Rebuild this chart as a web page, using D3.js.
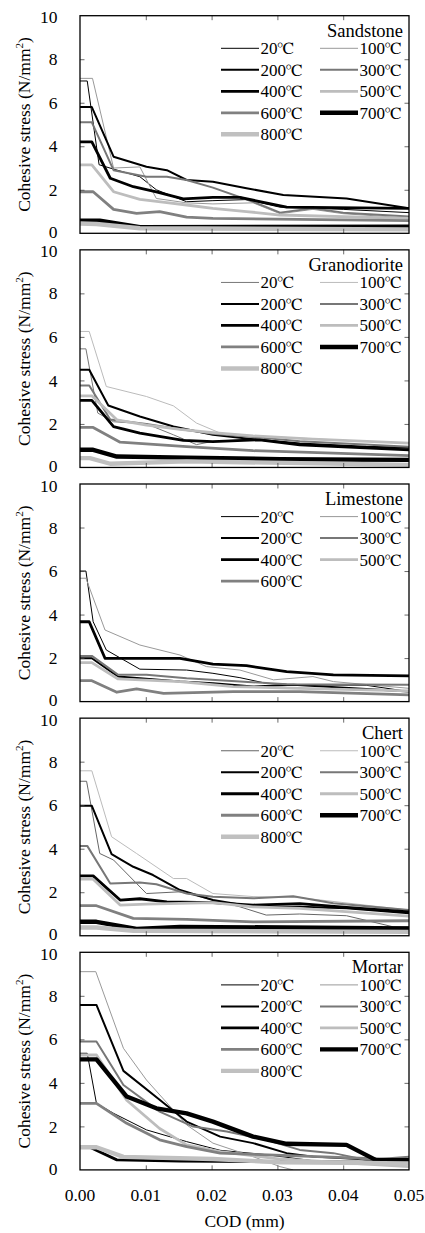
<!DOCTYPE html>
<html>
<head>
<meta charset="utf-8">
<script src="https://cdn.jsdelivr.net/npm/d3@7"></script>
<style>
  body { margin: 0; background: #fff; }
  svg { display: block; }
</style>
</head>
<body>
<svg id="chart" width="425" height="1233"></svg>
<script>
// Temperatures in legend order
const tempValues = ["20", "100", "200", "300", "400", "500", "600", "700", "800"];
const tempUnit = "℃";
const panelNames = ["Sandstone", "Granodiorite", "Limestone", "Chert", "Mortar"];
const codTicks = [0, 0.01, 0.02, 0.03, 0.04, 0.05];
const codTickLabels = ["0.00", "0.01", "0.02", "0.03", "0.04", "0.05"];
const stressTicks = [0, 2, 4, 6, 8, 10];

// Tension-softening curves: [COD (mm), cohesive stress (N/mm2)], one list per temperature
const sandstone = [
  [[0,7.0],[0.0011,7.0],[0.0029,3.15],[0.0051,2.95],[0.0091,2.6],[0.0116,2.0],[0.0162,1.45],[0.0202,1.5],[0.0253,1.55],[0.0304,1.2],[0.04,1.1],[0.05,0.95]],
  [[0,7.12],[0.0019,7.12],[0.0051,3.0],[0.0091,3.05],[0.0116,1.6],[0.0162,1.4],[0.0202,1.35],[0.0263,1.4],[0.0304,0.9],[0.0354,1.1],[0.04,0.9],[0.05,0.7]],
  [[0,5.8],[0.0018,5.8],[0.0051,3.52],[0.0101,3.06],[0.0132,2.9],[0.0162,2.45],[0.0202,2.37],[0.0253,2.07],[0.0309,1.76],[0.0405,1.6],[0.05,1.15]],
  [[0,5.1],[0.0018,5.1],[0.0051,2.9],[0.0101,2.6],[0.0132,2.6],[0.0162,2.45],[0.0202,2.1],[0.0263,1.45],[0.0304,0.95],[0.0354,1.15],[0.04,0.95],[0.05,0.77]],
  [[0,4.2],[0.0018,4.2],[0.0046,2.53],[0.0081,2.14],[0.0116,1.9],[0.0157,1.58],[0.0202,1.65],[0.0243,1.65],[0.0314,1.2],[0.05,1.15]],
  [[0,3.14],[0.0018,3.14],[0.0051,1.91],[0.0091,1.56],[0.0132,1.41],[0.0162,1.3],[0.0202,1.15],[0.0253,1.0],[0.0304,0.84],[0.05,0.69]],
  [[0,1.91],[0.002,1.91],[0.0051,1.1],[0.0086,0.92],[0.0121,1.0],[0.0162,0.74],[0.0202,0.69],[0.05,0.58]],
  [[0,0.58],[0.003,0.58],[0.0091,0.28],[0.05,0.3]],
  [[0,0.45],[0.0025,0.43],[0.0091,0.23],[0.05,0.18]]
];

const granodiorite = [
  [[0,5.45],[0.0009,5.45],[0.0027,2.5],[0.0051,2.1],[0.0101,2.0],[0.0142,1.5],[0.0177,1.05],[0.0202,1.2],[0.0263,1.3],[0.0334,1.1],[0.04,0.95],[0.05,0.9]],
  [[0,6.25],[0.0014,6.25],[0.004,3.72],[0.0101,3.26],[0.0142,2.83],[0.0177,2.04],[0.0213,1.58],[0.0263,1.45],[0.0334,1.35],[0.05,1.1]],
  [[0,4.49],[0.0014,4.49],[0.0043,2.85],[0.0091,2.34],[0.0142,1.88],[0.0202,1.5],[0.0263,1.3],[0.0334,1.1],[0.0435,0.95],[0.05,0.9]],
  [[0,3.77],[0.0014,3.77],[0.0046,2.2],[0.0101,2.0],[0.0142,1.8],[0.0202,1.55],[0.0263,1.4],[0.0334,1.2],[0.05,0.95]],
  [[0,3.08],[0.0018,3.08],[0.0051,1.88],[0.0091,1.58],[0.0157,1.24],[0.0202,1.19],[0.0273,1.27],[0.0334,1.04],[0.05,0.81]],
  [[0,3.29],[0.0018,3.29],[0.0056,2.19],[0.0101,1.95],[0.0152,1.75],[0.0202,1.6],[0.0263,1.45],[0.0354,1.3],[0.05,1.12]],
  [[0,1.84],[0.002,1.84],[0.0061,1.16],[0.0162,0.96],[0.0263,0.77],[0.0385,0.66],[0.05,0.54]],
  [[0,0.81],[0.002,0.81],[0.0056,0.5],[0.0162,0.45],[0.0304,0.38],[0.05,0.35]],
  [[0,0.43],[0.0015,0.43],[0.0046,0.17],[0.0162,0.28],[0.05,0.12]]
];

const limestone = [
  [[0,6.0],[0.0009,6.0],[0.002,3.67],[0.004,2.37],[0.0091,1.49],[0.0162,1.45],[0.0202,1.3],[0.0243,1.1],[0.0283,0.84],[0.0334,0.77],[0.0435,0.75],[0.05,0.46]],
  [[0,5.67],[0.0009,5.67],[0.0038,3.29],[0.0091,2.6],[0.0152,2.14],[0.0192,1.61],[0.0243,1.45],[0.0294,1.0],[0.0354,1.15],[0.0385,0.92],[0.05,0.61]],
  [[0,1.99],[0.0018,1.99],[0.0058,1.15],[0.0091,1.07],[0.0152,0.92],[0.0202,0.84],[0.0263,0.69],[0.0324,0.77],[0.05,0.46]],
  [[0,2.1],[0.0018,2.1],[0.0058,1.23],[0.0101,1.23],[0.0162,1.07],[0.0243,0.92],[0.0314,0.8],[0.05,0.77]],
  [[0,3.67],[0.0014,3.67],[0.0038,1.99],[0.0152,1.99],[0.0202,1.72],[0.0253,1.65],[0.0314,1.38],[0.0385,1.23],[0.05,1.18]],
  [[0,1.79],[0.0018,1.79],[0.0058,1.04],[0.0152,0.92],[0.0233,0.69],[0.0334,0.61],[0.05,0.49]],
  [[0,0.96],[0.0018,0.96],[0.0056,0.43],[0.0086,0.58],[0.0127,0.38],[0.0233,0.46],[0.0334,0.46],[0.05,0.31]]
];

const chert = [
  [[0,7.1],[0.001,7.1],[0.003,3.78],[0.0051,3.48],[0.0101,1.94],[0.0152,2.02],[0.0202,1.64],[0.0243,1.33],[0.0283,0.95],[0.0334,1.0],[0.0405,0.92],[0.0476,0.41],[0.05,0.41]],
  [[0,7.58],[0.0018,7.58],[0.0048,4.55],[0.0086,3.78],[0.0142,2.63],[0.0162,2.63],[0.0202,1.94],[0.0263,1.8],[0.0334,1.75],[0.05,1.18]],
  [[0,5.97],[0.0018,5.97],[0.0048,3.75],[0.0081,3.17],[0.0111,2.79],[0.0152,2.1],[0.0202,1.64],[0.0263,1.33],[0.0334,1.33],[0.0405,1.26],[0.05,1.03]],
  [[0,4.13],[0.0011,4.13],[0.0046,2.4],[0.0091,2.45],[0.0116,2.37],[0.0162,1.94],[0.0202,1.79],[0.0263,1.72],[0.0324,1.82],[0.0385,1.49],[0.05,1.18]],
  [[0,2.75],[0.002,2.75],[0.0061,1.64],[0.0091,1.7],[0.0132,1.56],[0.0202,1.52],[0.0263,1.41],[0.0334,1.48],[0.0405,1.3],[0.05,1.1]],
  [[0,2.6],[0.002,2.6],[0.0061,1.41],[0.0101,1.45],[0.0202,1.52],[0.0263,1.33],[0.0334,1.26],[0.05,0.9]],
  [[0,1.38],[0.0025,1.38],[0.0081,0.8],[0.0162,0.75],[0.0263,0.64],[0.05,0.69]],
  [[0,0.64],[0.0025,0.64],[0.0086,0.31],[0.0152,0.41],[0.05,0.34]],
  [[0,0.38],[0.0025,0.38],[0.0081,0.23],[0.05,0.18]]
];

const mortar = [
  [[0,5.36],[0.0011,5.36],[0.0025,3.06],[0.0051,2.6],[0.0101,1.84],[0.0162,1.3],[0.0213,0.9],[0.0283,0.7],[0.0385,0.3],[0.05,0.25]],
  [[0,9.11],[0.0024,9.11],[0.0066,5.59],[0.0101,4.13],[0.0162,2.07],[0.0202,1.23],[0.0263,0.61],[0.0304,0.15],[0.0324,0]],
  [[0,7.58],[0.0025,7.58],[0.0066,4.55],[0.0121,3.22],[0.0162,2.22],[0.0213,1.53],[0.0263,1.23],[0.0314,0.77],[0.0354,0.61],[0.05,0.38]],
  [[0,5.9],[0.0025,5.9],[0.0066,3.9],[0.0121,2.68],[0.0172,1.99],[0.0223,1.76],[0.0283,1.38],[0.0334,0.92],[0.0385,0.77],[0.0435,0.46],[0.05,0.61]],
  [[0,1.04],[0.0015,1.04],[0.0056,0.46],[0.0152,0.4],[0.05,0.35]],
  [[0,5.28],[0.0025,5.28],[0.0071,3.2],[0.0121,1.9],[0.0162,1.15],[0.0213,0.84],[0.0304,0.5],[0.05,0.15]],
  [[0,3.06],[0.0025,3.06],[0.0071,2.14],[0.0121,1.38],[0.0162,1.07],[0.0213,0.77],[0.05,0.46]],
  [[0,5.08],[0.0025,5.08],[0.0071,3.37],[0.0116,2.83],[0.0162,2.6],[0.0202,2.22],[0.0263,1.53],[0.0314,1.2],[0.0405,1.15],[0.045,0.45],[0.05,0.45]],
  [[0,1.04],[0.0025,1.04],[0.0066,0.6],[0.0202,0.5],[0.0304,0.35],[0.05,0.3]]
];

const panelCurves = [sandstone, granodiorite, limestone, chert, mortar];

// Stroke colour / width for each temperature
const strokeColors = ["#000", "#999", "#000", "#777", "#000", "#bdbdbd", "#808080", "#000", "#c0c0c0"];
const strokeWidths = [1, 1, 2, 2, 2.8, 2.8, 2.8, 4.4, 4.4];
// a few panels draw the two lowest temperatures in grey
const lowTempColors = {
  Granodiorite: ["#777", "#bbb"],
  Chert: ["#666", "#bbb"]
};

// Times-like face for all text; the degree sign comes from FreeSerif
const serifFace = "Liberation Serif";
const symbolFace = "FreeSerif";

const svg = d3.select("#chart");
const plotLeft = 80, plotRight = 409;
const panelTop0 = 15.7, panelStep = 234.15, panelH = 217.6;

const x = d3.scaleLinear().domain([0, 0.05]).range([plotLeft, plotRight]);

function serifText(sel, size) {
  return sel.style("font-family", serifFace).style("font-size", size + "px").attr("fill", "#000");
}

panelCurves.forEach((curves, p) => {
  const name = panelNames[p];
  const top = panelTop0 + p * panelStep;
  const bottom = top + panelH;
  const y = d3.scaleLinear().domain([0, 10]).range([bottom, top]);

  const g = svg.append("g");

  // curves, clipped to the plot frame
  const line = d3.line().x(d => x(d[0])).y(d => y(d[1]));
  const clipId = "clip" + p;
  svg.append("clipPath").attr("id", clipId)
    .append("rect").attr("x", plotLeft).attr("y", top).attr("width", plotRight - plotLeft).attr("height", panelH);

  const colorOf = i => (lowTempColors[name] && i < 2) ? lowTempColors[name][i] : strokeColors[i];

  g.append("g").attr("clip-path", `url(#${clipId})`)
    .selectAll("path").data(curves).join("path")
    .attr("d", line)
    .attr("fill", "none")
    .attr("stroke", (d, i) => colorOf(i))
    .attr("stroke-width", (d, i) => strokeWidths[i])
    .attr("stroke-linejoin", "round");

  // inner ticks on all four sides
  const tickLen = 4.5;
  const axisStyle = sel => {
    sel.select(".domain").remove();
    sel.selectAll(".tick line").attr("stroke", "#444").attr("stroke-width", 0.8);
    sel.selectAll(".tick text").remove();
  };
  g.append("g").attr("transform", `translate(0,${bottom})`)
    .call(d3.axisBottom(x).tickValues(codTicks.slice(1, -1)).tickSize(-tickLen)).call(axisStyle);
  g.append("g").attr("transform", `translate(0,${top})`)
    .call(d3.axisTop(x).tickValues(codTicks.slice(1, -1)).tickSize(-tickLen)).call(axisStyle);
  g.append("g").attr("transform", `translate(${plotLeft},0)`)
    .call(d3.axisLeft(y).tickValues(stressTicks.slice(1, -1)).tickSize(-tickLen)).call(axisStyle);
  g.append("g").attr("transform", `translate(${plotRight},0)`)
    .call(d3.axisRight(y).tickValues(stressTicks.slice(1, -1)).tickSize(-tickLen)).call(axisStyle);

  // frame
  g.append("rect")
    .attr("x", plotLeft).attr("y", top)
    .attr("width", plotRight - plotLeft).attr("height", panelH)
    .attr("fill", "none").attr("stroke", "#000").attr("stroke-width", 1.3);

  // y tick labels (0 nudged up, 10 nudged down so stacked panels don't collide)
  g.selectAll("text.ytick").data(stressTicks).join("text")
    .attr("class", "ytick")
    .attr("x", 57.5).attr("y", d => y(d) + (d === 0 ? -1.5 : d === 10 ? 1.5 : 0))
    .attr("dy", "0.35em")
    .attr("text-anchor", "end")
    .call(serifText, 17.5)
    .text(d => d);

  // y axis title
  const yt = g.append("text")
    .attr("transform", `translate(30,${(top + bottom) / 2}) rotate(-90)`)
    .attr("text-anchor", "middle")
    .call(serifText, 17.5);
  yt.append("tspan").text("Cohesive stress (N/mm");
  yt.append("tspan").style("font-size", "11px").attr("dy", -7).text("2");
  yt.append("tspan").attr("dy", 7).text(")");

  // legend
  g.append("text")
    .attr("x", 403).attr("y", top + 21)
    .attr("text-anchor", "end")
    .call(serifText, 18.5)
    .text(name);

  const items = curves.map((c, i) => i);
  const leg = g.selectAll("g.leg").data(items).join("g").attr("class", "leg")
    .attr("transform", i => `translate(${i % 2 === 0 ? 221 : 320},${top + 32.6 + Math.floor(i / 2) * 21.5})`);
  leg.append("line")
    .attr("x1", 0).attr("x2", 38).attr("y1", 0).attr("y2", 0)
    .attr("stroke", i => colorOf(i))
    .attr("stroke-width", i => strokeWidths[i]);
  const lt = leg.append("text")
    .attr("x", 39.5).attr("y", 0).attr("dy", "0.35em")
    .call(serifText, 17);
  lt.append("tspan").text(i => tempValues[i]);
  lt.append("tspan").style("font-family", symbolFace).text(tempUnit);

  // x tick labels on the bottom panel only
  if (p === panelCurves.length - 1) {
    g.selectAll("text.xtick").data(codTicks).join("text")
      .attr("class", "xtick")
      .attr("x", d => x(d)).attr("y", bottom + 25)
      .attr("dy", "0.35em")
      .attr("text-anchor", "middle")
      .call(serifText, 17.5)
      .text((d, i) => codTickLabels[i]);
    g.append("text")
      .attr("x", (plotLeft + plotRight) / 2).attr("y", bottom + 51)
      .attr("dy", "0.35em")
      .attr("text-anchor", "middle")
      .call(serifText, 17.5)
      .text("COD (mm)");
  }
});
</script>
</body>
</html>
